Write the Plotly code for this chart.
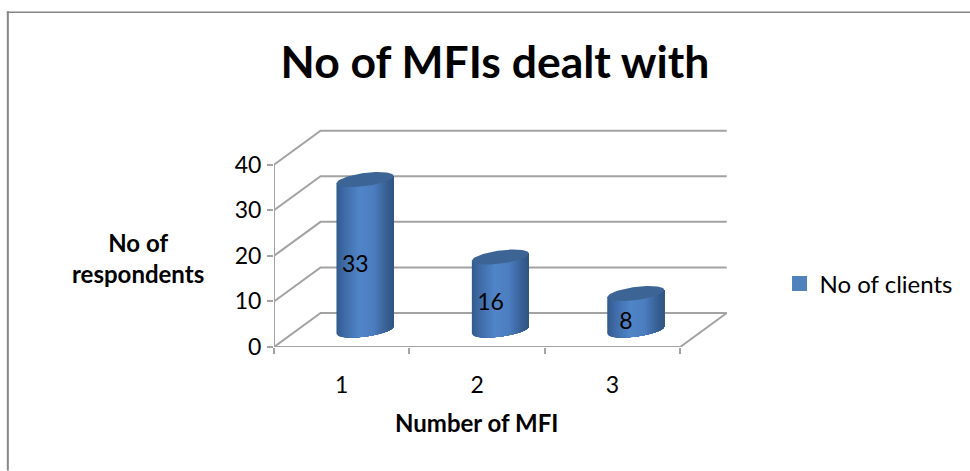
import numpy as np
import plotly.graph_objects as go

# Chart content
CHART_TITLE = "No of MFIs dealt with"
X_TITLE = "Number of MFI"
Y_TITLE = "No of<br>respondents"
SERIES_NAME = "No of clients"
categories = [1, 2, 3]
client_counts = [33, 16, 8]
y_ticks = [0, 10, 20, 30, 40]

# Pseudo-3D projection, in axis units
DEPTH_X = 0.344
DEPTH_Y = 7.45
RADIUS_X = 0.2106
RADIUS_Y = 1.45
TILT_Y = 0.8
X_MIN, X_MAX = 0.5, 3.5
GRID = "#a3a3a3"
FONT = "Lato"

fig = go.Figure()


def polyline(xs, ys, width=2, color=GRID):
    fig.add_trace(go.Scatter(x=xs, y=ys, mode="lines", showlegend=False, hoverinfo="skip",
                             line=dict(color=color, width=width)))


# Back wall and side wall gridlines
for tick in y_ticks:
    polyline([X_MIN, X_MIN + DEPTH_X, X_MAX + DEPTH_X],
             [tick, tick + DEPTH_Y, tick + DEPTH_Y])
# Floor outline and the two front axes
polyline([X_MIN, X_MAX, X_MAX + DEPTH_X], [0, 0, DEPTH_Y])
polyline([X_MIN, X_MIN], [0, max(y_ticks)])


def shade(u):
    """Cylinder side colour for a position u in [-1, 1] across its width."""
    stops = [-1, -0.75, -0.2, 0.3, 0.75, 1]
    red = np.interp(u, stops, [50, 62, 80, 76, 56, 48])
    green = np.interp(u, stops, [90, 106, 133, 126, 96, 84])
    blue = np.interp(u, stops, [140, 165, 200, 192, 148, 130])
    return f"rgb({red:.0f},{green:.0f},{blue:.0f})"


edges = np.linspace(-1, 1, 41)[:-1]
for cat, value in zip(categories, client_counts):
    cx = cat + DEPTH_X / 2
    base = DEPTH_Y / 2
    # Side of the cylinder, painted left to right: each layer runs to the right
    # edge so neighbouring colours never leave a seam between them
    for u0 in edges:
        us = np.linspace(u0, 1, 40)
        low = base - RADIUS_Y * np.sqrt(1 - us ** 2) + TILT_Y * us
        top = base + value + TILT_Y * us
        xs = np.concatenate([cx + RADIUS_X * us, cx + RADIUS_X * us[::-1]])
        ys = np.concatenate([low, top[::-1]])
        fig.add_trace(go.Scatter(x=xs, y=ys, mode="lines", fill="toself",
                                 fillcolor=shade(u0 + 0.025), line=dict(width=0),
                                 showlegend=False, hoverinfo="skip"))
    # Top cap
    t = np.linspace(0, 2 * np.pi, 80)
    fig.add_trace(go.Scatter(x=cx + RADIUS_X * np.cos(t),
                             y=base + value + RADIUS_Y * np.sin(t) + TILT_Y * np.cos(t),
                             mode="lines", fill="toself", fillcolor="#3c6596",
                             line=dict(width=0),
                             showlegend=False, hoverinfo="skip"))

# Value labels
fig.add_trace(go.Scatter(x=[c + 0.1 for c in categories],
                         y=[v / 2 + 1.3 for v in client_counts],
                         text=[str(v) for v in client_counts],
                         mode="text", textposition="middle center",
                         textfont=dict(family=FONT, size=23, color="#000000"),
                         showlegend=False, hoverinfo="skip"))

# Legend entry
fig.add_trace(go.Scatter(x=[None], y=[None], mode="markers", name=SERIES_NAME,
                         marker=dict(symbol="square", size=15, color="#4f81bd")))

fig.update_layout(
    width=970, height=471, autosize=False,
    margin=dict(l=274.3, r=970 - 728, t=128, b=123.7),
    paper_bgcolor="white", plot_bgcolor="white",
    title=dict(text=f"<b>{CHART_TITLE}</b>", x=495 / 970, xanchor="center",
               y=1 - 62 / 471, yanchor="middle",
               font=dict(family=FONT, size=44.5, color="#000000")),
    font=dict(family=FONT, size=23, color="#000000"),
    showlegend=True,
    legend=dict(x=(779.5 - 274.3) / 453.7, xref="paper", xanchor="left",
                y=(347.3 - 284) / 219.3, yanchor="middle",
                bgcolor="rgba(0,0,0,0)", font=dict(family=FONT, size=24)),
    xaxis=dict(range=[X_MIN, X_MIN + (728 - 274.3) / 135.3], showgrid=False, zeroline=False,
               showline=False, tickvals=categories, ticktext=[str(c) for c in categories],
               ticks="outside", ticklen=17, tickcolor="rgba(0,0,0,0)",
               minor=dict(tickvals=[0.5, 1.5, 2.5, 3.5], ticks="outside", ticklen=6,
                          tickcolor=GRID, tickwidth=2, showgrid=False)),
    yaxis=dict(range=[0, 219.3 / 4.565], showgrid=False, zeroline=False, showline=False,
               tickvals=y_ticks, ticks="outside", ticklen=6, tickcolor=GRID, tickwidth=2,
               ticklabelstandoff=1),
    annotations=[
        dict(text=f"<b>{Y_TITLE}</b>", xref="paper", yref="paper", x=-136.3 / 453.7,
             y=(347.3 - 258) / 219.3, xanchor="center", yanchor="middle", showarrow=False,
             font=dict(family=FONT, size=24, color="#000000")),
        dict(text=f"<b>{X_TITLE}</b>", xref="paper", yref="paper", x=(477 - 274.3) / 453.7,
             y=(347.3 - 423) / 219.3, xanchor="center", yanchor="middle", showarrow=False,
             font=dict(family=FONT, size=24, color="#000000")),
    ],
    shapes=[
        dict(type="line", xref="paper", yref="paper", layer="below",
             x0=-266 / 453.7, x1=-266 / 453.7, y0=-123.7 / 219.3, y1=(347.3 - 11) / 219.3,
             line=dict(color="#868686", width=2)),
        dict(type="line", xref="paper", yref="paper", layer="below",
             x0=-267 / 453.7, x1=(970 - 274.3) / 453.7, y0=(347.3 - 12) / 219.3,
             y1=(347.3 - 12) / 219.3, line=dict(color="#868686", width=1.5)),
    ],
)

fig.write_html("out.html", config=dict(displayModeBar=False))
